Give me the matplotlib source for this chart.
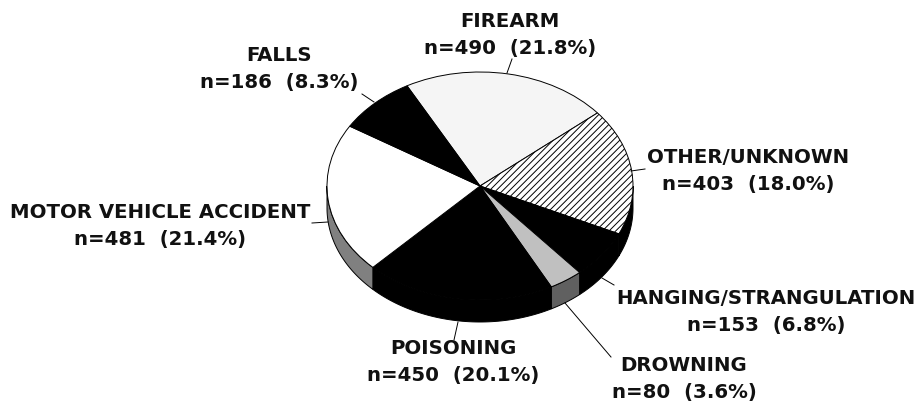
import numpy as np
import matplotlib
matplotlib.use("Agg")
import matplotlib.pyplot as plt
from matplotlib.patches import Polygon
from matplotlib.transforms import Affine2D

categories = ["FIREARM", "OTHER/UNKNOWN", "HANGING/STRANGULATION", "DROWNING",
              "POISONING", "MOTOR VEHICLE ACCIDENT", "FALLS"]
counts = [490, 403, 153, 80, 450, 481, 186]
percents = ["21.8%", "18.0%", "6.8%", "3.6%", "20.1%", "21.4%", "8.3%"]
top_colors = ["#f5f5f5", "white", "black", "#c0c0c0", "black", "white", "black"]
side_colors = ["#808080", "black", "black", "#606060", "black", "#808080", "black"]
hatches = [None, "/////", None, None, None, None, None]
label_pos = [(510, 35), (748, 171), (766, 312), (684, 379), (453, 362), (160, 226), (279, 69)]

W, H = 922, 404
plt.rcParams["hatch.linewidth"] = 0.7
fig = plt.figure(figsize=(W / 100, H / 100), dpi=100)
ax = fig.add_axes([0, 0, 1, 1])
ax.set_xlim(0, W)
ax.set_ylim(H, 0)
ax.axis("off")

cx, cy, a, b, depth = 480, 186, 153, 114, 22
start = 118.5
tf = Affine2D().scale(a, -b).translate(cx, cy) + ax.transData

angles = start - np.cumsum([0] + counts) / sum(counts) * 360

# side wall
for i in range(len(counts)):
    hi, lo = angles[i], angles[i + 1]
    lo2, hi2 = max(lo, -180), min(hi, 0)
    if lo2 >= hi2:
        lo2, hi2 = max(lo - 360, -180), min(hi - 360, 0)
    if lo2 >= hi2:
        continue
    t = np.radians(np.linspace(lo2, hi2, 60))
    x = cx + a * np.cos(t)
    y = cy - b * np.sin(t)
    pts = np.r_[np.c_[x, y], np.c_[x, y + depth][::-1]]
    ax.add_patch(Polygon(pts, closed=True, facecolor=side_colors[i],
                         edgecolor="black", linewidth=0.7, zorder=1))

# top face
wedges, _ = ax.pie(counts, startangle=start, counterclock=False, radius=1,
                   colors=top_colors, center=(0, 0), frame=False,
                   wedgeprops=dict(edgecolor="black", linewidth=0.7))
for w, h in zip(wedges, hatches):
    w.set_transform(tf)
    w.set_zorder(2)
    if h:
        w.set_hatch(h)
ax.set_xlim(0, W)
ax.set_ylim(H, 0)
ax.set_aspect("auto")
ax.axis("off")

# leaders
leaders = [((507, 73), (512, 59)), ((631, 171), (645, 169)), ((602, 278), (614, 285)),
           ((565, 303), (611, 357)), ((458, 322), (454, 340)), ((328, 222), (312, 223)),
           ((374, 102), (362, 94))]
for p, q in leaders:
    ax.plot([p[0], q[0]], [p[1], q[1]], color="black", lw=0.7, zorder=3)

for c, n, pct, (x, y) in zip(categories, counts, percents, label_pos):
    ax.text(x, y, f"{c}\nn={n}  ({pct})", ha="center", va="center", fontsize=14.2,
            fontweight="bold", family="DejaVu Sans", linespacing=1.5, color="#111111")

fig.savefig("out.png", dpi=100, facecolor="white")
